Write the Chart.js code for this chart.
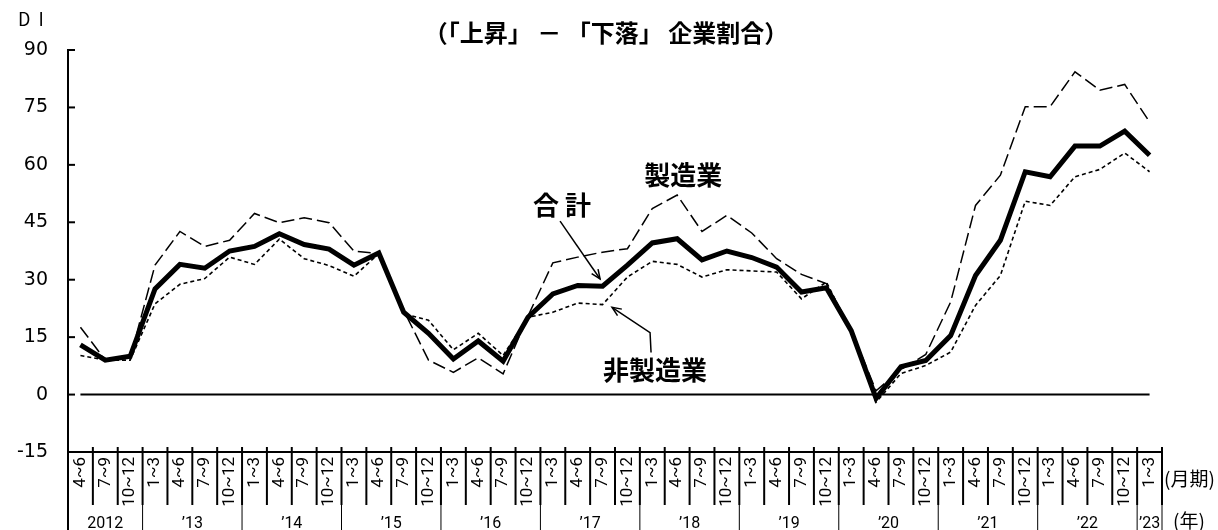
<!DOCTYPE html>
<html lang="ja">
<head>
<meta charset="utf-8">
<title>DI（「上昇」－「下落」企業割合）</title>
<script src="https://cdn.jsdelivr.net/npm/chart.js@4.4.1/dist/chart.umd.min.js"></script>
<style>
  html, body { margin: 0; padding: 0; background: #fff; }
  #wrap { width: 1218px; height: 530px; }
</style>
</head>
<body>
<div id="wrap"><canvas id="diChart" width="1218" height="530"></canvas></div>
<script>
// Quarter / year labels (2012 Apr-Jun .. 2023 Jan-Mar)
const quarterNames = ["1~3", "4~6", "7~9", "10~12"];
const yearLabels = ["2012", "’13", "’14", "’15", "’16", "’17", "’18", "’19", "’20", "’21", "’22", "’23"];
const quartersPerYear = [3, 4, 4, 4, 4, 4, 4, 4, 4, 4, 4, 1];
const yTicks = [-15, 0, 15, 30, 45, 60, 75, 90];

// DI series
const totalDI = [13, 9, 10,
  27.6, 34, 33, 37.5,
  38.7, 42, 39.2, 38,
  33.8, 37, 21.5, 16,
  9.3, 14, 8.7, 20.2,
  26.3, 28.5, 28.3, 33.8,
  39.6, 40.7, 35.2, 37.5,
  35.8, 33.3, 26.8, 27.9,
  16.7, -1, 7.3, 8.9,
  15.4, 31.1, 40.3, 58.2,
  56.9, 64.9, 64.9, 68.8,
  62.5];
const manufacturingDI = [17.6, 9, 9.6,
  33.8, 42.6, 38.7, 40.3,
  47.3, 44.9, 46.2, 44.9,
  37.5, 36.8, 22, 9,
  5.8, 9.6, 5.4, 20.5,
  34.4, 35.9, 37.2, 38.1,
  48.6, 52.1, 42.6, 46.8,
  42.2, 35.5, 31.4, 29,
  17, 1, 6.5, 10.5,
  24.2, 49.4, 57.3, 75.2,
  75.2, 84.3, 79.5, 81,
  71.2];
const nonManufacturingDI = [10.2, 9, 9,
  23.7, 28.8, 30.3, 35.9,
  34, 40.6, 35.5, 33.7,
  30.9, 36.8, 21.1, 19.4,
  11.7, 16, 10.2, 20.2,
  21.5, 23.9, 23.5, 30.7,
  34.8, 34, 30.7, 32.6,
  32.3, 32, 25, 29.4,
  16.5, -2, 5.5, 7.6,
  11.1, 23.3, 31.1, 50.5,
  49.4, 56.9, 58.8, 63.1,
  58.2];

// build category labels from the year table
const quarterLabels = [];
quartersPerYear.forEach((n, yi) => {
  const start = yi === 0 ? 4 - n : 0;
  for (let q = start; q < start + n; q++) quarterLabels.push(quarterNames[q]);
});

const JP = '"Noto Sans CJK JP", "Noto Sans", sans-serif';
const NARROW = 'Roboto, "Noto Sans", sans-serif';

// label positions in (category index, DI) units
const seriesNotes = [
  { text: "製造業", at: [24.24, 57.3] },
  { text: "合 計", at: [19.37, 49.4] },
  { text: "非製造業", at: [23.11, 6.5] },
];
const notePointers = [
  [[19.29, 45.3], [20.9, 30.2]],
  [[22.95, 11], [22.91, 16.2], [21.38, 22.8]],
];

const drawArrow = (ctx, pts) => {
  ctx.beginPath();
  ctx.moveTo(pts[0][0], pts[0][1]);
  for (let i = 1; i < pts.length; i++) ctx.lineTo(pts[i][0], pts[i][1]);
  ctx.stroke();
  const [x1, y1] = pts[pts.length - 2];
  const [x2, y2] = pts[pts.length - 1];
  const a = Math.atan2(y2 - y1, x2 - x1);
  const len = 10;
  ctx.beginPath();
  ctx.moveTo(x2 - len * Math.cos(a - 0.4), y2 - len * Math.sin(a - 0.4));
  ctx.lineTo(x2, y2);
  ctx.lineTo(x2 - len * Math.cos(a + 0.4), y2 - len * Math.sin(a + 0.4));
  ctx.stroke();
};

const framePlugin = {
  id: "diFrame",
  beforeDatasetsDraw(chart) {
    const { ctx, scales: { x, y } } = chart;
    // zero line
    ctx.save();
    ctx.strokeStyle = "#000";
    ctx.lineWidth = 2;
    ctx.beginPath();
    ctx.moveTo(x.getPixelForValue(0), y.getPixelForValue(0));
    ctx.lineTo(x.getPixelForValue(quarterLabels.length - 1), y.getPixelForValue(0));
    ctx.stroke();
    ctx.restore();
  },
  afterDraw(chart) {
    const { ctx, chartArea, scales: { x, y } } = chart;
    const H = chart.height;
    const colW = (chartArea.right - chartArea.left) / quarterLabels.length;
    ctx.save();
    ctx.strokeStyle = "#000";
    ctx.fillStyle = "#000";

    // inner ticks on the y axis
    ctx.lineWidth = 2;
    yTicks.forEach((v) => {
      const py = y.getPixelForValue(v);
      ctx.beginPath();
      ctx.moveTo(chartArea.left, py);
      ctx.lineTo(chartArea.left + 7, py);
      ctx.stroke();
    });

    // y axis continues through the label table
    ctx.beginPath();
    ctx.moveTo(chartArea.left, chartArea.bottom);
    ctx.lineTo(chartArea.left, H);
    ctx.stroke();

    // quarter separators
    const sepBottom = chartArea.bottom + 53;
    for (let i = 1; i <= quarterLabels.length; i++) {
      const px = chartArea.left + i * colW;
      ctx.beginPath();
      ctx.moveTo(px, chartArea.bottom - 5);
      ctx.lineTo(px, sepBottom);
      ctx.stroke();
    }

    // year separators and year labels
    ctx.lineWidth = 1;
    ctx.font = "16px " + NARROW;
    ctx.textAlign = "center";
    ctx.textBaseline = "middle";
    let idx = 0;
    quartersPerYear.forEach((n, yi) => {
      const x0 = chartArea.left + idx * colW;
      const x1 = chartArea.left + (idx + n) * colW;
      ctx.beginPath();
      ctx.moveTo(x1, sepBottom);
      ctx.lineTo(x1, H);
      ctx.stroke();
      ctx.fillText(yearLabels[yi], (x0 + x1) / 2, H - 6);
      idx += n;
    });

    // unit labels on the right of the table
    ctx.font = "19px " + JP;
    ctx.textAlign = "left";
    ctx.fillText("(月期)", chartArea.right + 2, chartArea.bottom + 27);
    ctx.fillText("(年)", chartArea.right + 11, H - 9);

    // axis caption and title
    ctx.font = "18px " + JP;
    ctx.fillText("D  I", 18, 19);
    ctx.font = "bold 24px " + JP;
    ctx.textAlign = "center";
    ctx.fillText("（「上昇」 － 「下落」 企業割合）", 606, 33);

    // series names and pointers
    ctx.font = "bold 26px " + JP;
    seriesNotes.forEach((n) => {
      ctx.fillText(n.text, x.getPixelForValue(n.at[0]), y.getPixelForValue(n.at[1]));
    });
    ctx.lineWidth = 1.5;
    notePointers.forEach((p) => {
      drawArrow(ctx, p.map(([i, v]) => [x.getPixelForValue(i), y.getPixelForValue(v)]));
    });
    ctx.restore();
  },
};

const ctx = document.getElementById("diChart").getContext("2d");
new Chart(ctx, {
  type: "line",
  data: {
    labels: quarterLabels,
    datasets: [
      {
        label: "合計",
        data: totalDI,
        borderColor: "#000",
        borderWidth: 5,
        pointRadius: 0,
        tension: 0,
        order: 0,
      },
      {
        label: "製造業",
        data: manufacturingDI,
        borderColor: "#000",
        borderWidth: 1.5,
        borderDash: [13, 5],
        pointRadius: 0,
        tension: 0,
        order: 1,
      },
      {
        label: "非製造業",
        data: nonManufacturingDI,
        borderColor: "#000",
        borderWidth: 1.6,
        borderDash: [4, 3],
        pointRadius: 0,
        tension: 0,
        order: 2,
      },
    ],
  },
  options: {
    responsive: false,
    animation: false,
    layout: { padding: { top: 50, right: 56, bottom: 0, left: 0 } },
    plugins: {
      legend: { display: false },
      tooltip: { enabled: false },
      title: { display: false },
    },
    scales: {
      x: {
        type: "category",
        offset: true,
        grid: { display: false, drawTicks: false },
        border: { display: true, color: "#000", width: 2 },
        ticks: {
          autoSkip: false,
          minRotation: 90,
          maxRotation: 90,
          padding: 5,
          color: "#000",
          font: { family: NARROW, size: 17 },
        },
        afterFit: (scale) => { scale.height = 78; },
      },
      y: {
        min: -15,
        max: 90,
        afterBuildTicks: (scale) => { scale.ticks = yTicks.map((v) => ({ value: v })); },
        grid: { display: false, drawTicks: false },
        border: { display: true, color: "#000", width: 2 },
        ticks: {
          padding: 20,
          color: "#000",
          font: { family: '"DejaVu Sans", sans-serif', size: 19 },
        },
        afterFit: (scale) => { scale.width = 68; },
      },
    },
  },
  plugins: [framePlugin],
});
</script>
</body>
</html>
